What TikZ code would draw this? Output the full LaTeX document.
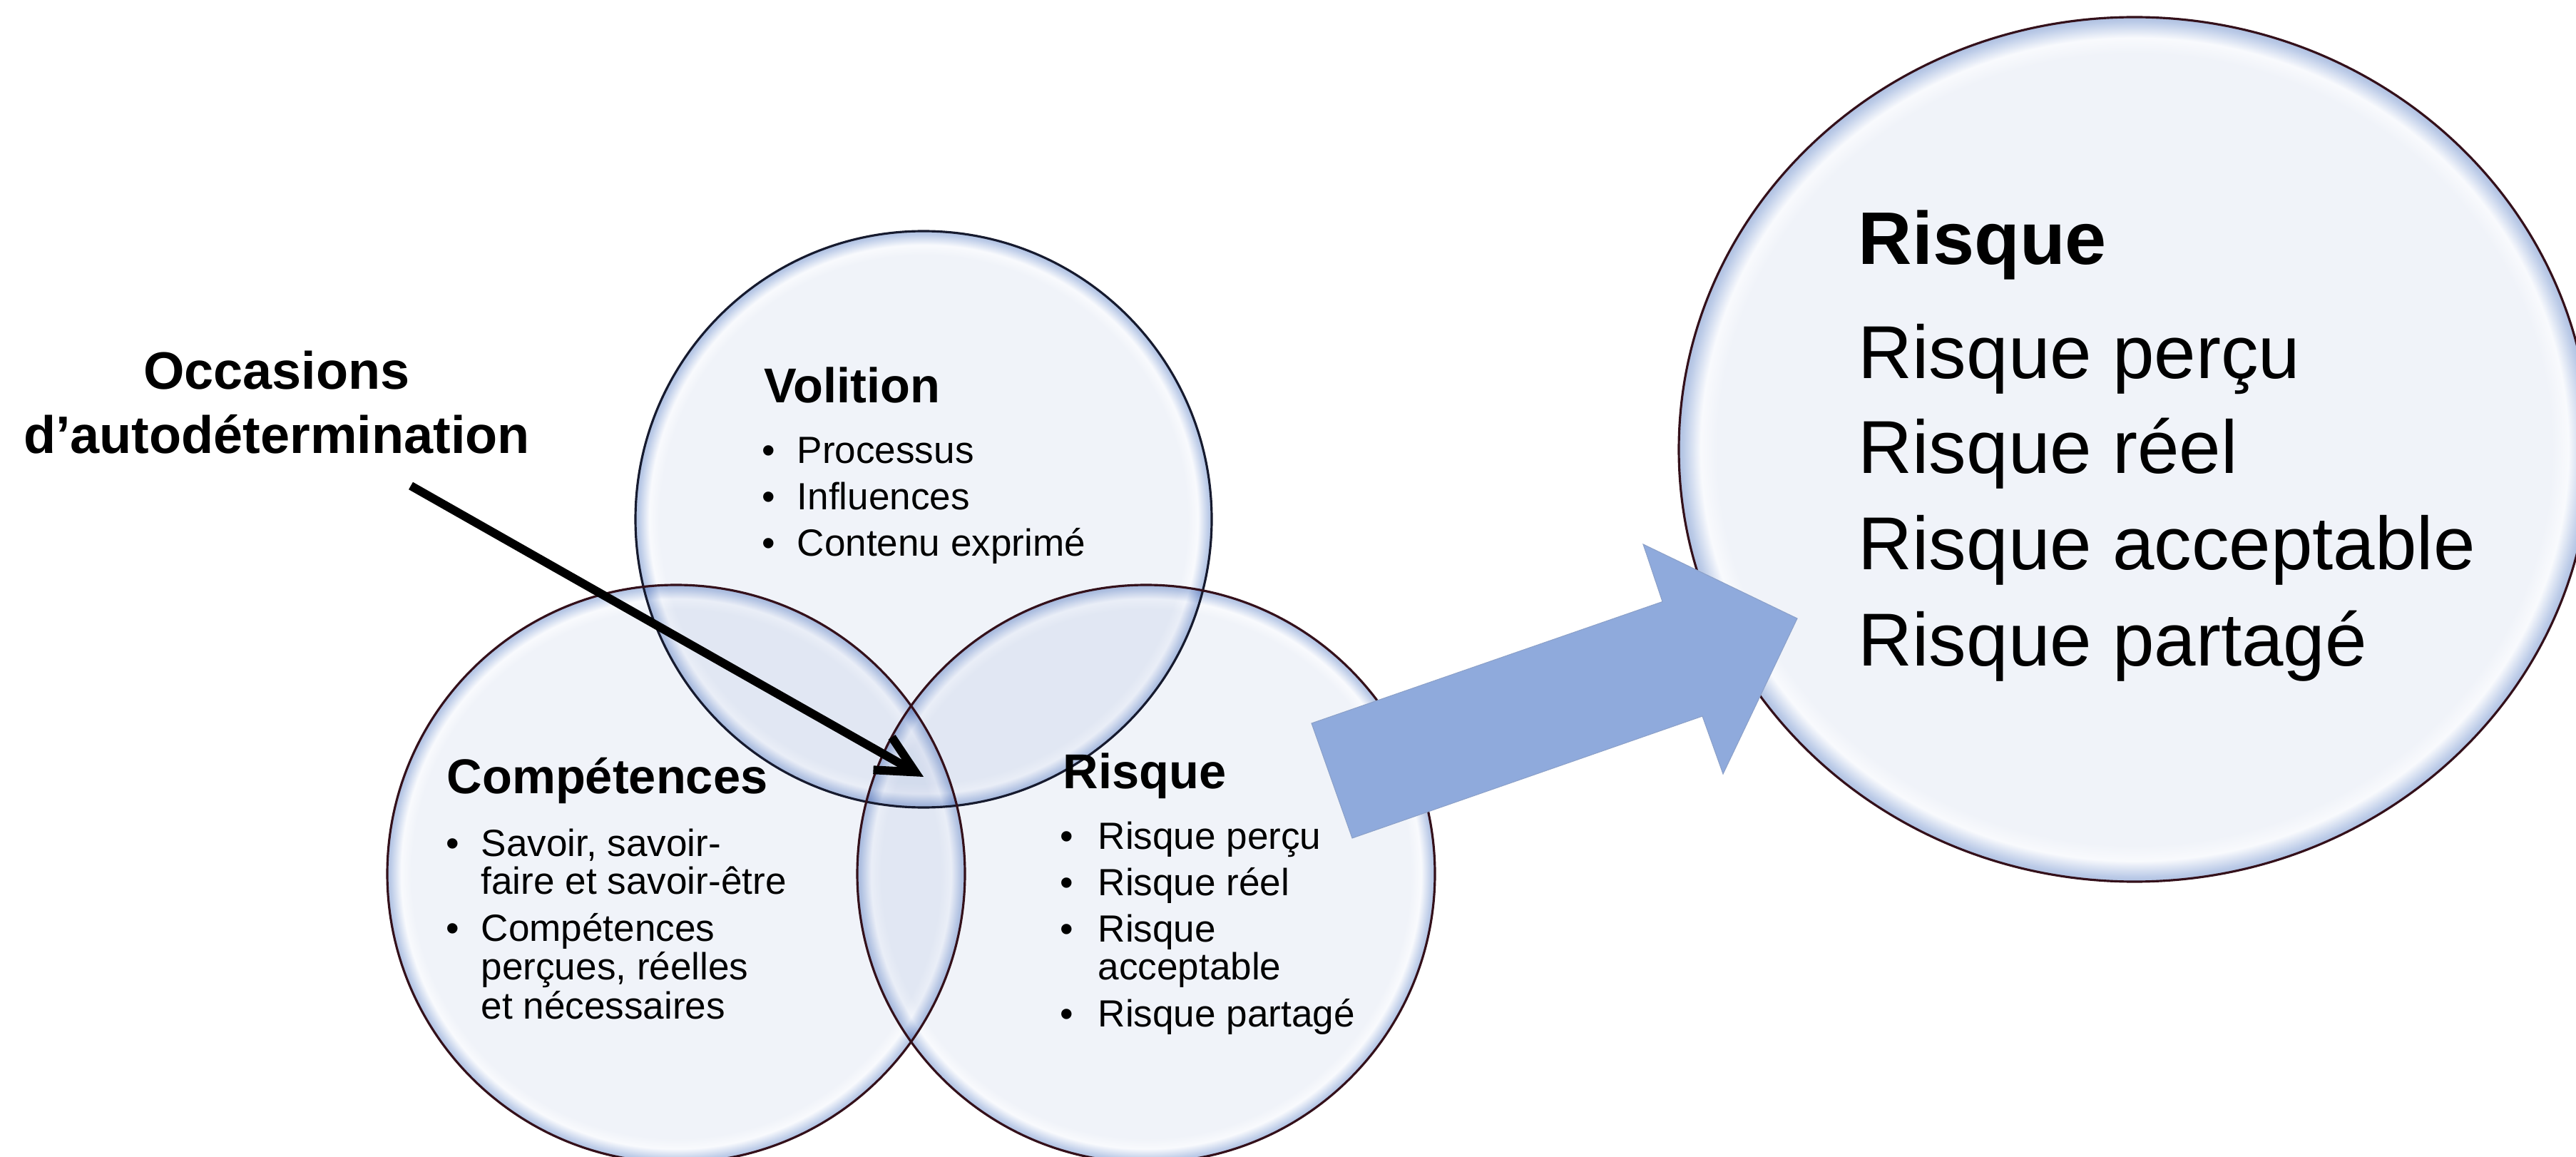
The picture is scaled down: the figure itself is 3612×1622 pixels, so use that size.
\documentclass[tikz,border=0pt]{standalone}
\usepackage{fontspec}
\setmainfont{Liberation Sans}
\usetikzlibrary{arrows.meta}

% soft "bubble" fill: light interior, white-ish ring, bluish rim
\pgfdeclareradialshading{bubble}{\pgfpoint{0bp}{0bp}}{%
  rgb(0bp)=(0.941,0.953,0.976);
  rgb(22.9bp)=(0.941,0.953,0.976);
  rgb(23.8bp)=(0.975,0.980,0.992);
  rgb(24.7bp)=(0.74,0.80,0.91);
  rgb(25bp)=(0.68,0.75,0.88);
  rgb(50bp)=(0.68,0.75,0.88)}

\definecolor{rimnavy}{RGB}{22,26,46}
\definecolor{rimwine}{RGB}{52,16,26}
\definecolor{blockblue}{RGB}{143,170,220}

\begin{document}
\begin{tikzpicture}[x=0.01cm,y=-0.01cm,
  ttl/.style={anchor=base west, inner sep=0pt, font=\fontsize{19.5pt}{23pt}\selectfont\bfseries},
  itm/.style={anchor=base west, inner sep=0pt, font=\fontsize{15.1pt}{18pt}\selectfont},
  bulletmark/.style={anchor=base, inner sep=0pt, font=\fontsize{15.1pt}{18pt}\selectfont},
  bigttl/.style={anchor=base west, inner sep=0pt, font=\fontsize{29.7pt}{36pt}\selectfont\bfseries},
  bigitm/.style={anchor=base west, inner sep=0pt, font=\fontsize{29.9pt}{36pt}\selectfont},
  lead/.style={anchor=base, inner sep=0pt, font=\fontsize{21pt}{25pt}\selectfont\bfseries},
  rimA/.style={draw=rimnavy, line width=0.9pt},
  rimB/.style={draw=rimwine, line width=0.9pt},
]
\useasboundingbox (0,0) rectangle (3612,1622);
\fill[white] (0,0) rectangle (3612,1622);

% Venn circles, multiplied so that overlaps darken
\begin{scope}[blend mode=multiply]
  \shade[shading=bubble] (1295,728) circle[radius=404];
  \shade[shading=bubble] (948,1225) circle[radius=405];
  \shade[shading=bubble] (1607,1225) circle[radius=405];
  \shade[shading=bubble] (2993,630) ellipse[x radius=639, y radius=606];
\end{scope}
\draw[rimA] (1295,728) circle[radius=404];
\draw[rimB] (948,1225) circle[radius=405];
\draw[rimB] (1607,1225) circle[radius=405];
\draw[rimB] (2993,630) ellipse[x radius=639, y radius=606];

% block arrow towards the detailed circle
\coordinate (ba1) at (1839,1014);
\coordinate (ba2) at (2331,843.5);
\coordinate (ba3) at (2304,763);
\coordinate (ba4) at (2520,867);
\coordinate (ba5) at (2416,1085);
\coordinate (ba6) at (2387,1004);
\coordinate (ba7) at (1896,1175);
\fill[blockblue, draw=blockblue!80!gray, line width=0.3pt]
  (ba1) -- (ba2) -- (ba3) -- (ba4) -- (ba5) -- (ba6) -- (ba7) -- cycle;

% Volition
\node[ttl] (vol) at (1071,565) {Volition};
\node[bulletmark] (vb1) at (1078,650) {•};
\node[itm] (v1) at (1117,650) {Processus};
\node[bulletmark] (vb2) at (1078,715) {•};
\node[itm] (v2) at (1117,715) {Influences};
\node[bulletmark] (vb3) at (1078,779) {•};
\node[itm] (v3) at (1117,779) {Contenu exprimé};

% Compétences
\node[ttl] (comp) at (626,1112) {Compétences};
\node[bulletmark] (cb1) at (635,1200) {•};
\node[itm] (c1) at (674,1200) {Savoir, savoir-};
\node[itm] (c1b) at (674,1253) {faire et savoir-être};
\node[bulletmark] (cb2) at (635,1319) {•};
\node[itm] (c2) at (674,1319) {Compétences};
\node[itm] (c2b) at (674,1373) {perçues, réelles};
\node[itm] (c2c) at (674,1428) {et nécessaires};

% Risque
\node[ttl] (risk) at (1490,1105) {Risque};
\node[bulletmark] (rb1) at (1496,1190) {•};
\node[itm] (r1) at (1539,1190) {Risque perçu};
\node[bulletmark] (rb2) at (1496,1255) {•};
\node[itm] (r2) at (1539,1255) {Risque réel};
\node[bulletmark] (rb3) at (1496,1320) {•};
\node[itm] (r3) at (1539,1320) {Risque};
\node[itm] (r3b) at (1539,1373) {acceptable};
\node[bulletmark] (rb4) at (1496,1439) {•};
\node[itm] (r4) at (1539,1439) {Risque partagé};

% detailed Risque circle
\node[bigttl] (bigrisk) at (2605,371) {Risque};
\node[bigitm] (br1) at (2605,531) {Risque perçu};
\node[bigitm] (br2) at (2605,663) {Risque réel};
\node[bigitm] (br3) at (2605,798) {Risque acceptable};
\node[bigitm] (br4) at (2605,933) {Risque partagé};

% lead label and its pointer
\node[lead] (occ1) at (388,546) {Occasions};
\node[lead] (occ2) at (388,636) {d’autodétermination};
\coordinate (pointer) at (576,681);
\coordinate (core) at (1295,1089);
\draw[line width=3.4pt, -{Straight Barb[length=15pt, width=15pt, line width=3.4pt]}]
  (pointer) -- (core);
\end{tikzpicture}
\end{document}
